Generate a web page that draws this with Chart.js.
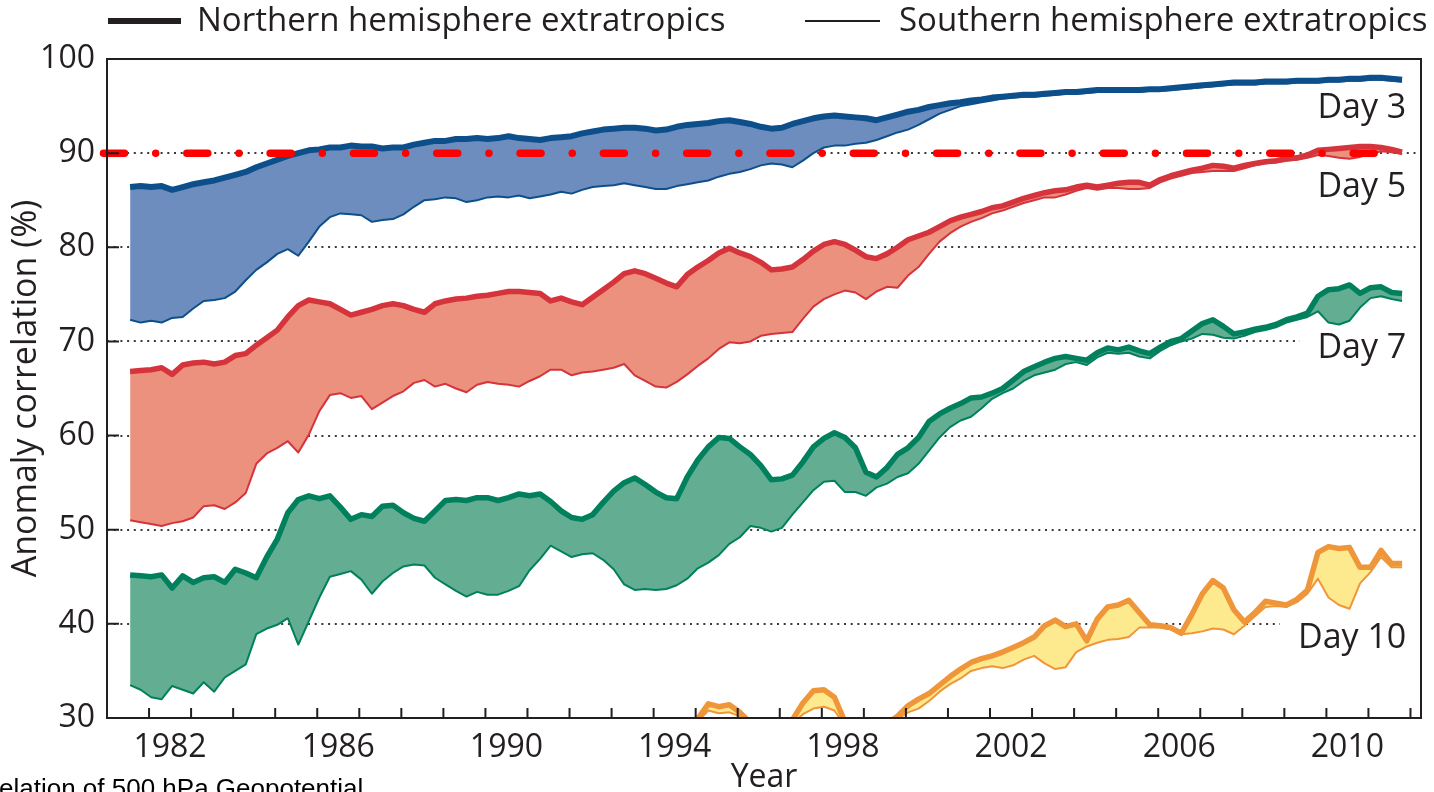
<!DOCTYPE html>
<html>
<head>
<meta charset="utf-8">
<script src="https://cdn.jsdelivr.net/npm/chart.js@4.4.1/dist/chart.umd.min.js"></script>
<style>
  html, body { margin: 0; padding: 0; background: #ffffff; overflow: hidden; }
  canvas { display: block; }
</style>
</head>
<body>
<canvas id="acc" width="1434" height="792"></canvas>
<script>
// Quarterly samples of the 12-month running mean anomaly correlation (%)
const years = [];
for (let i = 0; i < 122; i++) years.push(+(1981.55 + i * 0.25).toFixed(2));

// Day 3
const day3North = [
  86.4, 86.5,
  86.4, 86.5, 86.1, 86.4,  86.7, 86.9, 87.1, 87.4,  87.7, 88.0, 88.5, 88.9,  89.3, 89.7, 90.0, 90.3,
  90.4, 90.6, 90.6, 90.8,  90.7, 90.7, 90.5, 90.6,  90.6, 90.9, 91.1, 91.3,  91.3, 91.5, 91.5, 91.6,
  91.5, 91.6, 91.8, 91.6,  91.5, 91.4, 91.6, 91.7,  91.8, 92.1, 92.3, 92.5,  92.6, 92.7, 92.7, 92.6,
  92.4, 92.5, 92.8, 93.0,  93.1, 93.2, 93.4, 93.5,  93.3, 93.1, 92.8, 92.6,  92.7, 93.1, 93.4, 93.7,
  93.9, 94.0, 93.9, 93.8,  93.7, 93.5, 93.8, 94.1,  94.4, 94.6, 94.9, 95.1,  95.3, 95.4, 95.6, 95.7,
  95.9, 96.0, 96.1, 96.2,  96.2, 96.3, 96.4, 96.5,  96.5, 96.6, 96.7, 96.7,  96.7, 96.7, 96.7, 96.8,
  96.8, 96.9, 97.0, 97.1,  97.2, 97.3, 97.4, 97.5,  97.5, 97.5, 97.6, 97.6,  97.6, 97.7, 97.7, 97.7,
  97.8, 97.8, 97.9, 97.9,  98.0, 98.0, 97.9, 97.8
];
const day3South = [
  72.3, 72.0,
  72.2, 72.0, 72.5, 72.6,  73.5, 74.3, 74.4, 74.6,  75.3, 76.5, 77.6, 78.4,  79.3, 79.8, 79.1, 80.6,
  82.2, 83.2, 83.6, 83.5,  83.4, 82.7, 82.9, 83.0,  83.5, 84.3, 85.0, 85.1,  85.3, 85.2, 84.8, 85.0,
  85.3, 85.4, 85.3, 85.5,  85.2, 85.4, 85.6, 85.9,  85.7, 86.1, 86.4, 86.5,  86.6, 86.8, 86.6, 86.4,
  86.2, 86.2, 86.5, 86.7,  86.9, 87.1, 87.5, 87.8,  88.0, 88.3, 88.7, 88.9,  88.8, 88.5, 89.2, 90.0,
  90.6, 90.8, 90.8, 91.0,  91.1, 91.4, 91.8, 92.2,  92.5, 93.0, 93.6, 94.2,  94.6, 95.0, 95.2, 95.4,
  95.6, 95.8, 95.9, 96.0,  96.0, 96.1, 96.2, 96.3,  96.3, 96.4, 96.5, 96.5,  96.5, 96.5, 96.5, 96.6,
  96.6, 96.7, 96.8, 96.9,  97.0, 97.1, 97.2, 97.3,  97.3, 97.3, 97.4, 97.4,  97.4, 97.5, 97.5, 97.5,
  97.6, 97.6, 97.7, 97.7,  97.8, 97.8, 97.7, 97.6
];

// Day 5
const day5North = [
  66.8, 66.9,
  67.0, 67.2, 66.5, 67.5,  67.7, 67.8, 67.6, 67.8,  68.5, 68.7, 69.6, 70.4,  71.2, 72.6, 73.8, 74.4,
  74.2, 74.0, 73.4, 72.8,  73.1, 73.4, 73.8, 74.0,  73.8, 73.4, 73.1, 74.0,  74.3, 74.5, 74.6, 74.8,
  74.9, 75.1, 75.3, 75.3,  75.2, 75.1, 74.3, 74.6,  74.2, 73.9, 74.7, 75.5,  76.3, 77.2, 77.5, 77.2,
  76.7, 76.2, 75.8, 77.1,  77.9, 78.6, 79.4, 79.9,  79.4, 79.0, 78.4, 77.6,  77.7, 77.9, 78.7, 79.6,
  80.3, 80.6, 80.3, 79.7,  79.0, 78.8, 79.3, 80.0,  80.8, 81.2, 81.6, 82.2,  82.8, 83.2, 83.5, 83.8,
  84.2, 84.4, 84.8, 85.2,  85.5, 85.8, 86.0, 86.1,  86.4, 86.6, 86.4, 86.6,  86.8, 86.9, 86.9, 86.6,
  87.2, 87.6, 87.9, 88.2,  88.4, 88.7, 88.6, 88.4,  88.7, 88.9, 89.1, 89.2,  89.4, 89.5, 89.8, 90.3,
  90.4, 90.5, 90.6, 90.7,  90.7, 90.6, 90.4, 90.1
];
const day5South = [
  51.0, 50.8,
  50.6, 50.4, 50.7, 50.9,  51.3, 52.5, 52.6, 52.2,  52.9, 53.9, 57.0, 58.1,  58.7, 59.4, 58.2, 60.1,
  62.6, 64.3, 64.5, 64.0,  64.2, 62.8, 63.5, 64.2,  64.7, 65.6, 65.9, 65.2,  65.5, 65.0, 64.6, 65.4,
  65.7, 65.5, 65.4, 65.2,  65.8, 66.3, 67.0, 67.0,  66.4, 66.7, 66.8, 67.0,  67.2, 67.6, 66.4, 65.8,
  65.2, 65.1, 65.7, 66.5,  67.4, 68.2, 69.2, 69.9,  69.8, 70.0, 70.6, 70.8,  70.9, 71.0, 72.4, 73.7,
  74.5, 75.0, 75.4, 75.2,  74.5, 75.3, 75.8, 75.7,  77.0, 77.9, 79.3, 80.6,  81.5, 82.2, 82.7, 83.1,
  83.6, 83.9, 84.3, 84.7,  85.0, 85.3, 85.3, 85.6,  86.0, 86.3, 86.1, 86.3,  86.3, 86.2, 86.2, 86.3,
  86.9, 87.3, 87.6, 87.9,  88.0, 88.1, 88.1, 88.1,  88.4, 88.7, 88.9, 89.0,  89.2, 89.3, 89.5, 89.8,
  89.7, 89.5, 89.4, 89.6,  89.9, 90.2, 90.1, 89.9
];

// Day 7
const day7North = [
  45.2, 45.1,
  45.0, 45.2, 43.8, 45.1,  44.4, 44.9, 45.0, 44.4,  45.8, 45.4, 44.9, 47.1,  49.0, 51.8, 53.2, 53.6,
  53.3, 53.6, 52.4, 51.1,  51.6, 51.4, 52.5, 52.6,  51.8, 51.2, 50.9, 52.0,  53.1, 53.2, 53.1, 53.4,
  53.4, 53.1, 53.4, 53.8,  53.6, 53.8, 53.0, 52.0,  51.3, 51.1, 51.6, 52.9,  54.1, 55.0, 55.5, 54.8,
  54.0, 53.4, 53.3, 55.6,  57.4, 58.8, 59.8, 59.7,  58.8, 58.0, 56.8, 55.3,  55.4, 55.8, 57.2, 58.8,
  59.7, 60.3, 59.8, 58.7,  56.1, 55.6, 56.6, 58.0,  58.7, 59.8, 61.5, 62.3,  62.9, 63.4, 64.0, 64.1,
  64.5, 65.0, 65.9, 66.8,  67.3, 67.8, 68.2, 68.4,  68.2, 68.0, 68.8, 69.3,  69.1, 69.4, 69.0, 68.7,
  69.4, 70.0, 70.3, 71.1,  71.9, 72.3, 71.6, 70.8,  71.0, 71.3, 71.5, 71.8,  72.3, 72.6, 73.0, 74.8,
  75.5, 75.6, 76.0, 75.1,  75.7, 75.8, 75.2, 75.1
];
const day7South = [
  33.5, 33.0,
  32.2, 32.0, 33.4, 33.0,  32.6, 33.8, 32.8, 34.3,  35.0, 35.7, 38.9, 39.5,  39.9, 40.6, 37.8, 40.3,
  42.8, 45.0, 45.3, 45.6,  44.7, 43.2, 44.5, 45.4,  46.1, 46.3, 46.2, 44.9,  44.2, 43.5, 42.9, 43.4,
  43.1, 43.1, 43.5, 44.0,  45.7, 46.9, 48.3, 47.7,  47.1, 47.4, 47.5, 46.8,  45.8, 44.2, 43.6, 43.7,
  43.6, 43.7, 44.1, 44.8,  45.9, 46.5, 47.3, 48.5,  49.2, 50.4, 50.2, 49.8,  50.2, 51.6, 52.9, 54.2,
  55.1, 55.2, 54.0, 54.0,  53.6, 54.5, 54.9, 55.6,  56.0, 57.0, 58.4, 59.8,  60.9, 61.6, 62.0, 62.9,
  63.9, 64.5, 65.0, 65.8,  66.4, 66.7, 67.0, 67.6,  67.8, 67.5, 68.3, 68.8,  68.7, 68.8, 68.4, 68.2,
  69.0, 69.6, 70.0, 70.3,  70.8, 70.7, 70.4, 70.3,  70.6, 71.0, 71.2, 71.5,  72.0, 72.3, 72.6, 73.2,
  72.0, 71.8, 72.2, 73.6,  74.6, 74.8, 74.5, 74.3
];

// Day 10 (below the axis floor before the mid-1990s)
const day10North = [
  null, null,
  null, null, null, null,  null, null, null, null,  null, null, null, null,  null, null, null, null,
  null, null, null, null,  null, null, null, null,  null, null, null, null,  null, null, null, null,
  null, null, null, null,  null, null, null, null,  null, null, null, null,  null, null, null, null,
  null, null, 28.4, 28.8,  29.9, 31.5, 31.2, 31.4,  30.6, 29.5, 28.5, 28.8,  29.0, 29.8, 31.6, 32.9,
  33.0, 32.2, 29.6, 28.0,  28.0, 28.8, 29.4, 30.2,  31.3, 32.0, 32.6, 33.5,  34.4, 35.2, 35.9, 36.3,
  36.6, 37.0, 37.5, 38.0,  38.6, 39.8, 40.4, 39.7,  40.0, 38.2, 40.5, 41.8,  42.0, 42.5, 41.2, 39.9,
  39.8, 39.6, 39.0, 41.0,  43.2, 44.6, 43.8, 41.5,  40.2, 41.2, 42.4, 42.2,  42.0, 42.6, 43.6, 47.6,
  48.2, 48.0, 48.1, 46.0,  46.0, 47.8, 46.4, 46.4
];
const day10South = [
  null, null,
  null, null, null, null,  null, null, null, null,  null, null, null, null,  null, null, null, null,
  null, null, null, null,  null, null, null, null,  null, null, null, null,  null, null, null, null,
  null, null, null, null,  null, null, null, null,  null, null, null, null,  null, null, null, null,
  null, null, 28.2, 28.6,  29.6, 30.8, 30.5, 30.6,  30.2, 29.2, 28.2, 28.6,  28.8, 29.4, 30.4, 31.0,
  31.2, 30.8, 29.2, 27.8,  27.8, 28.6, 29.2, 29.9,  30.6, 31.0, 31.8, 32.8,  33.6, 34.2, 35.0, 35.3,
  35.5, 35.3, 35.6, 36.2,  36.6, 35.8, 35.2, 35.4,  37.0, 37.6, 38.0, 38.3,  38.4, 38.6, 39.6, 39.6,
  39.6, 39.4, 38.9, 39.0,  39.2, 39.5, 39.4, 38.9,  39.8, 40.8, 41.8, 41.9,  41.8, 42.3, 43.2, 44.8,
  42.8, 42.0, 41.6, 44.3,  45.5, 47.1, 46.0, 46.0
];

// Axis ticks and annotations
const labelYears = [1982, 1986, 1990, 1994, 1998, 2002, 2006, 2010];
const yTicks = [30, 40, 50, 60, 70, 80, 90, 100];
const threshold = 90;
const dayLabels = ['Day 3', 'Day 5', 'Day 7', 'Day 10'];
const seriesNames = ['Northern hemisphere extratropics', 'Southern hemisphere extratropics'];

const ink = '#231f20';
const fontFamily = "'Open Sans', 'Noto Sans', sans-serif";

// Band styling: line colour and fill colour per forecast day
const bands = [
  { north: day3North, south: day3South, line: '#0d4f8b', fill: '#6d8dbf', width: 6 },
  { north: day5North, south: day5South, line: '#d6343c', fill: '#eb917d', width: 5.5 },
  { north: day7North, south: day7South, line: '#00805c', fill: '#63ae93', width: 5.5 },
  { north: day10North, south: day10South, line: '#f0963a', fill: '#fde98e', width: 5.5 }
];

const toPoints = arr => years.map((x, i) => ({ x, y: arr[i] }));
const clipBox = { left: 6, right: 6, top: 6, bottom: 0 };

const datasets = [];
bands.forEach(b => {
  datasets.push({
    data: toPoints(b.north), borderColor: b.line, borderWidth: b.width,
    fill: false, pointRadius: 0, clip: clipBox
  });
  datasets.push({
    data: toPoints(b.south), borderColor: b.line, borderWidth: 2,
    backgroundColor: b.fill, fill: '-1', pointRadius: 0, clip: clipBox
  });
});

// Label anchors in data units (right edge year, baseline value)
const dayLabelYear = 2011.9;
const dayLabelValue = [93.7, 85.35, 68.2, 37.4];
const dayFont = `34px ${fontFamily}`;

const decorations = {
  id: 'decorations',
  beforeDatasetsDraw(chart) {
    const { ctx, chartArea: a, scales: { x, y } } = chart;
    ctx.save();
    ctx.font = dayFont;
    ctx.fillStyle = '#ffffff';
    dayLabels.forEach((t, i) => {
      const w = ctx.measureText(t).width;
      const right = x.getPixelForValue(dayLabelYear);
      const base = y.getPixelForValue(dayLabelValue[i]);
      const bx = right - w - 18;
      ctx.fillRect(bx, base - 32, a.right - bx, 44);
    });
    ctx.restore();
  },
  afterDatasetsDraw(chart) {
    const { ctx, chartArea: a, scales: { x, y } } = chart;
    ctx.save();

    // 90% reference line
    const ty = y.getPixelForValue(threshold);
    ctx.strokeStyle = '#ff0000';
    ctx.lineWidth = 7.5;
    ctx.lineCap = 'round';
    ctx.setLineDash([21, 31.2, 0.01, 31.1]);
    ctx.beginPath();
    ctx.moveTo(a.left - 3.5, ty);
    ctx.lineTo(a.right - 18, ty);
    ctx.stroke();
    ctx.setLineDash([]);
    ctx.lineCap = 'butt';

    // frame
    ctx.strokeStyle = ink;
    ctx.lineWidth = 2;
    ctx.strokeRect(a.left, a.top, a.right - a.left, a.bottom - a.top);

    // inward tick marks
    ctx.beginPath();
    for (let yr = Math.ceil(x.min); yr <= Math.floor(x.max); yr++) {
      const px = x.getPixelForValue(yr);
      ctx.moveTo(px, a.bottom);
      ctx.lineTo(px, a.bottom - 10);
    }
    yTicks.slice(1, -1).forEach(v => {
      const py = y.getPixelForValue(v);
      ctx.moveTo(a.left, py);
      ctx.lineTo(a.left + 12, py);
    });
    ctx.stroke();

    // day labels
    ctx.font = dayFont;
    ctx.fillStyle = ink;
    ctx.textAlign = 'right';
    ctx.textBaseline = 'alphabetic';
    dayLabels.forEach((t, i) => {
      ctx.fillText(t, x.getPixelForValue(dayLabelYear), y.getPixelForValue(dayLabelValue[i]));
    });

    // legend
    ctx.textAlign = 'left';
    ctx.strokeStyle = ink;
    ctx.lineWidth = 6;
    ctx.beginPath(); ctx.moveTo(108, 21); ctx.lineTo(181, 21); ctx.stroke();
    ctx.lineWidth = 2;
    ctx.beginPath(); ctx.moveTo(805, 21); ctx.lineTo(880, 21); ctx.stroke();
    ctx.font = `33px ${fontFamily}`;
    ctx.fillText(seriesNames[0], 197, 31);
    ctx.fillText(seriesNames[1], 899, 31);

    // caption
    ctx.fillStyle = '#000000';
    ctx.font = "26px 'Liberation Sans', Arial, sans-serif";
    ctx.fillText('elation of 500 hPa Geopotential', -1, 797);

    ctx.restore();
  }
};

new Chart(document.getElementById('acc'), {
  type: 'line',
  data: { datasets },
  options: {
    responsive: false,
    animation: false,
    devicePixelRatio: 1,
    layout: { padding: { top: 59, right: 13, bottom: 0, left: 0 } },
    elements: { line: { tension: 0, borderJoinStyle: 'round' }, point: { radius: 0 } },
    plugins: {
      legend: { display: false },
      tooltip: { enabled: false },
      filler: { propagate: false }
    },
    scales: {
      x: {
        type: 'linear',
        min: 1981,
        max: 2012.25,
        grid: { display: false },
        border: { display: false },
        afterBuildTicks: s => { s.ticks = labelYears.map(v => ({ value: v + 0.5 })); },
        afterFit: s => { s.height = 74; },
        ticks: {
          autoSkip: false, maxRotation: 0, padding: 3, color: ink,
          font: { family: fontFamily, size: 32 },
          callback: v => String(Math.floor(v))
        },
        title: {
          display: true, text: 'Year', color: ink,
          font: { family: fontFamily, size: 32 },
          padding: { top: 0, bottom: -5 }
        }
      },
      y: {
        type: 'linear',
        min: 30,
        max: 100,
        afterBuildTicks: s => { s.ticks = yTicks.map(v => ({ value: v })); },
        afterFit: s => { s.width = 107; },
        grid: {
          drawTicks: false,
          lineWidth: 2,
          color: c => (c.tick && c.tick.value > 30 && c.tick.value < 100) ? '#3a3a3a' : 'rgba(0,0,0,0)'
        },
        border: { display: false, dash: [2, 4.7] },
        ticks: {
          padding: 12, color: ink,
          font: { family: fontFamily, size: 32 }
        },
        title: {
          display: true, text: 'Anomaly correlation (%)', color: ink,
          font: { family: fontFamily, size: 34 },
          padding: { top: 6, bottom: 0 }
        }
      }
    }
  },
  plugins: [decorations]
});
</script>
</body>
</html>
